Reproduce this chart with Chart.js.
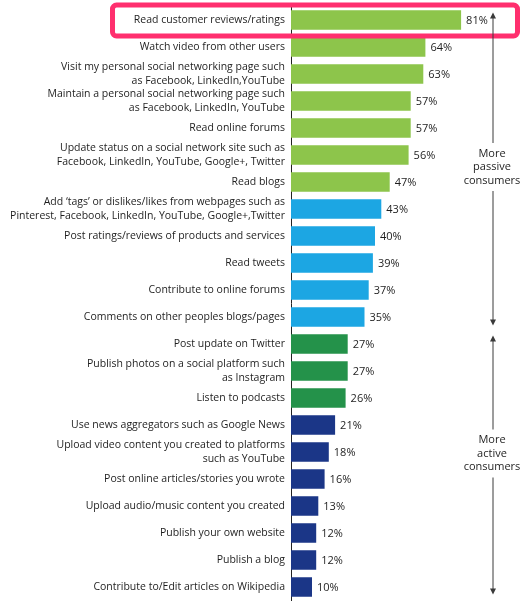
<!DOCTYPE html>
<html>
<head>
<meta charset="utf-8">
<script src="https://cdn.jsdelivr.net/npm/chart.js@4/dist/chart.umd.min.js"></script>
<style>
  html, body { margin: 0; padding: 0; background: #fff; }
  #wrap { position: relative; width: 528px; height: 608px; }
</style>
</head>
<body>
<div id="wrap"><canvas id="chart"></canvas></div>
<script>
// categories, top to bottom
const activities = [
    ['Read customer reviews/ratings'],
    ['Watch video from other users'],
    ['Visit my personal social networking page such', 'as Facebook, LinkedIn,YouTube'],
    ['Maintain a personal social networking page such', 'as Facebook, LinkedIn, YouTube'],
    ['Read online forums'],
    ['Update status on a social network site such as', 'Facebook, LinkedIn, YouTube, Google+, Twitter'],
    ['Read blogs'],
    ['Add \u2018tags\u2019 or dislikes/likes from webpages such as', 'Pinterest, Facebook, LinkedIn, YouTube, Google+,Twitter'],
    ['Post ratings/reviews of products and services'],
    ['Read tweets'],
    ['Contribute to online forums'],
    ['Comments on other peoples blogs/pages'],
    ['Post update on Twitter'],
    ['Publish photos on a social platform such', 'as Instagram'],
    ['Listen to podcasts'],
    ['Use news aggregators such as Google News'],
    ['Upload video content you created to platforms', 'such as YouTube'],
    ['Post online articles/stories you wrote'],
    ['Upload audio/music content you created'],
    ['Publish your own website'],
    ['Publish a blog'],
    ['Contribute to/Edit articles on Wikipedia']
];

// share of consumers (%)
const shares = [81, 64, 63, 57, 57, 56, 47, 43, 40, 39, 37, 35, 27, 27, 26, 21, 18, 16, 13, 12, 12, 10];

// which colour group each activity falls in
const groups = ['A', 'A', 'A', 'A', 'A', 'A', 'A', 'B', 'B', 'B', 'B', 'B', 'C', 'C', 'C', 'D', 'D', 'D', 'D', 'D', 'D', 'D'];

const sideLabels = [['More', 'passive', 'consumers'], ['More', 'active', 'consumers']];

const groupColours = { A: '#8dc54b', B: '#1ca6e3', C: '#24924a', D: '#1b3687' };
const textColour = '#1e1e1e';
const FONT = '"Open Sans", "Noto Sans", sans-serif';

// value labels after each bar
const valueLabels = {
    id: 'valueLabels',
    afterDatasetsDraw(chart) {
        const ctx = chart.ctx;
        const meta = chart.getDatasetMeta(0);
        ctx.save();
        ctx.font = '11px ' + FONT;
        ctx.fillStyle = textColour;
        ctx.textAlign = 'left';
        ctx.textBaseline = 'middle';
        meta.data.forEach((bar, i) => {
            ctx.fillText(shares[i] + '%', bar.x + 5, bar.y + 1);
        });
        ctx.restore();
    }
};

// pink highlight box and the passive/active arrows on the right
const decorations = {
    id: 'decorations',
    afterDraw(chart) {
        const ctx = chart.ctx;
        const y = chart.scales.y;
        const area = chart.chartArea;
        const p = i => y.getPixelForValue(i);
        ctx.save();

        // highlight box round the first row
        ctx.strokeStyle = '#ff2f6e';
        ctx.lineWidth = 5;
        ctx.beginPath();
        ctx.roundRect(112.5, p(0) - 15, 405, 31, 4);
        ctx.stroke();

        const ax = 493;
        const split = (p(11) + p(12)) / 2;
        const segs = [
            { top: area.top + 6, bottom: split - 5, mid: (p(5) + p(6)) / 2 - 1.5, text: sideLabels[0] },
            { top: split + 5, bottom: area.bottom - 6, mid: p(16) + 1.5, text: sideLabels[1] }
        ];
        ctx.strokeStyle = '#3a3a3a';
        ctx.fillStyle = '#3a3a3a';
        ctx.lineWidth = 1;
        segs.forEach(s => {
            const half = 24;
            ctx.beginPath();
            ctx.moveTo(ax, s.top + 4);
            ctx.lineTo(ax, s.mid - half);
            ctx.moveTo(ax, s.mid + half);
            ctx.lineTo(ax, s.bottom - 4);
            ctx.stroke();
            // arrow heads
            ctx.beginPath();
            ctx.moveTo(ax, s.top);
            ctx.lineTo(ax - 3, s.top + 6);
            ctx.lineTo(ax + 3, s.top + 6);
            ctx.closePath();
            ctx.fill();
            ctx.beginPath();
            ctx.moveTo(ax, s.bottom);
            ctx.lineTo(ax - 3, s.bottom - 6);
            ctx.lineTo(ax + 3, s.bottom - 6);
            ctx.closePath();
            ctx.fill();
            ctx.font = '11px ' + FONT;
            ctx.fillStyle = textColour;
            ctx.textAlign = 'center';
            ctx.textBaseline = 'middle';
            s.text.forEach((t, k) => ctx.fillText(t, ax - 1, s.mid - 13.5 + k * 13.5));
            ctx.fillStyle = '#3a3a3a';
        });
        ctx.restore();
    }
};

new Chart(document.getElementById('chart'), {
    type: 'bar',
    data: {
        labels: activities,
        datasets: [{
            data: shares,
            backgroundColor: ctx => groupColours[groups[ctx.dataIndex]],
            barPercentage: 0.73,
            categoryPercentage: 1
        }]
    },
    options: {
        indexAxis: 'y',
        responsive: true,
        maintainAspectRatio: false,
        animation: false,
        layout: { padding: { top: 6.5, bottom: 7.5, right: 27, left: 0 } },
        plugins: {
            legend: { display: false },
            tooltip: { enabled: false }
        },
        scales: {
            x: { display: false, min: 0, max: 100 },
            y: {
                grid: { display: false, drawTicks: false },
                border: { display: true, color: '#222', width: 1 },
                ticks: {
                    color: textColour,
                    padding: 6,
                    autoSkip: false,
                    font: { family: FONT, size: 10.5, lineHeight: 1.25 }
                },
                afterFit(scale) {
                    scale.width = 291;
                    scale.paddingTop = 0;
                    scale.paddingBottom = 0;
                }
            }
        }
    },
    plugins: [valueLabels, decorations]
});
</script>
</body>
</html>
